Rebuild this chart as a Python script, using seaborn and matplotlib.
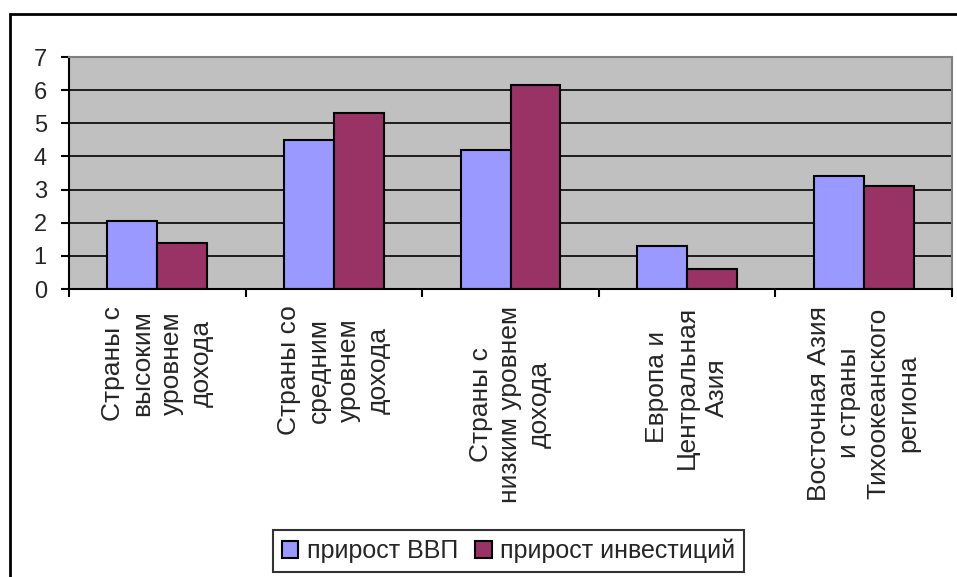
import pandas as pd
import numpy as np
import matplotlib
matplotlib.use("Agg")
import matplotlib.pyplot as plt
import seaborn as sns
from matplotlib.patches import Rectangle

# Данные
regiony = [
    "Страны с\nвысоким\nуровнем\nдохода",
    "Страны со\nсредним\nуровнем\nдохода",
    "Страны с\nнизким уровнем\nдохода",
    "Европа и\nЦентральная\nАзия",
    "Восточная Азия\nи страны\nТихоокеанского\nрегиона",
]
prirost_vvp = [2.05, 4.5, 4.2, 1.3, 3.4]
prirost_invest = [1.4, 5.3, 6.15, 0.6, 3.1]
serii = ["прирост ВВП", "прирост инвестиций"]
cveta = ["#9999FF", "#993366"]

df = pd.DataFrame({
    "region": regiony * 2,
    "znachenie": prirost_vvp + prirost_invest,
    "seriya": [serii[0]] * len(regiony) + [serii[1]] * len(regiony),
})

sns.set_theme(style="white")
plt.rcParams["font.family"] = ["Liberation Sans", "DejaVu Sans"]

W, H = 957, 577
fig = plt.figure(figsize=(W / 100, H / 100), dpi=100)
ax = fig.add_axes([69 / W, 1 - 289 / H, (952 - 69) / W, (289 - 57) / H])

sns.barplot(
    data=df, x="region", y="znachenie", hue="seriya",
    palette=cveta, saturation=1, edgecolor="black", linewidth=1.5,
    width=0.566, gap=0, ax=ax, order=regiony, hue_order=serii,
)

ax.set_facecolor("#C0C0C0")
ax.set_ylim(0, 7)
ax.set_xlim(-0.5, len(regiony) - 0.5)
ax.set_yticks(range(0, 8))
ax.yaxis.grid(True, color="black", linewidth=1.2)
ax.set_axisbelow(True)
ax.set_xlabel("")
ax.set_ylabel("")

# рамка области построения
for s in ["left", "bottom"]:
    ax.spines[s].set_color("black")
    ax.spines[s].set_linewidth(1.5)
for s in ["top", "right"]:
    ax.spines[s].set_color("#808080")
    ax.spines[s].set_linewidth(1.5)

# подписи категорий по центру, штрихи на границах
ax.set_xticks(range(len(regiony)))
ax.set_xticklabels(regiony, rotation=90, ha="center", va="top",
                   multialignment="center", linespacing=1.3, fontsize=19)
ax.tick_params(axis="x", which="major", length=0, pad=12)
ax.set_xticks(np.arange(-0.5, len(regiony), 1.0), minor=True)
ax.tick_params(axis="x", which="minor", length=6, width=1.5, color="black",
               direction="out", bottom=True)
ax.tick_params(axis="y", length=6, width=1.5, color="black", direction="out",
               left=True, pad=10, labelsize=17)

# легенда внизу
handles, labels = ax.get_legend_handles_labels()
ax.get_legend().remove()
leg = fig.legend(
    handles, labels, loc="center", bbox_to_anchor=(508.5 / W, 1 - 551 / H),
    ncol=2, fontsize=18, frameon=True, fancybox=False, edgecolor="black",
    handlelength=0.65, handleheight=0.65, handletextpad=0.35,
    columnspacing=0.7, borderpad=0.35, borderaxespad=0,
)
leg.get_frame().set_linewidth(1.5)

# внешняя рамка диаграммы
fig.patches.append(Rectangle((10 / W, -0.05), 1.1, 1 - 14 / H + 0.05,
                             transform=fig.transFigure, fill=False,
                             edgecolor="black", linewidth=2))

fig.savefig("out.png", dpi=100)
